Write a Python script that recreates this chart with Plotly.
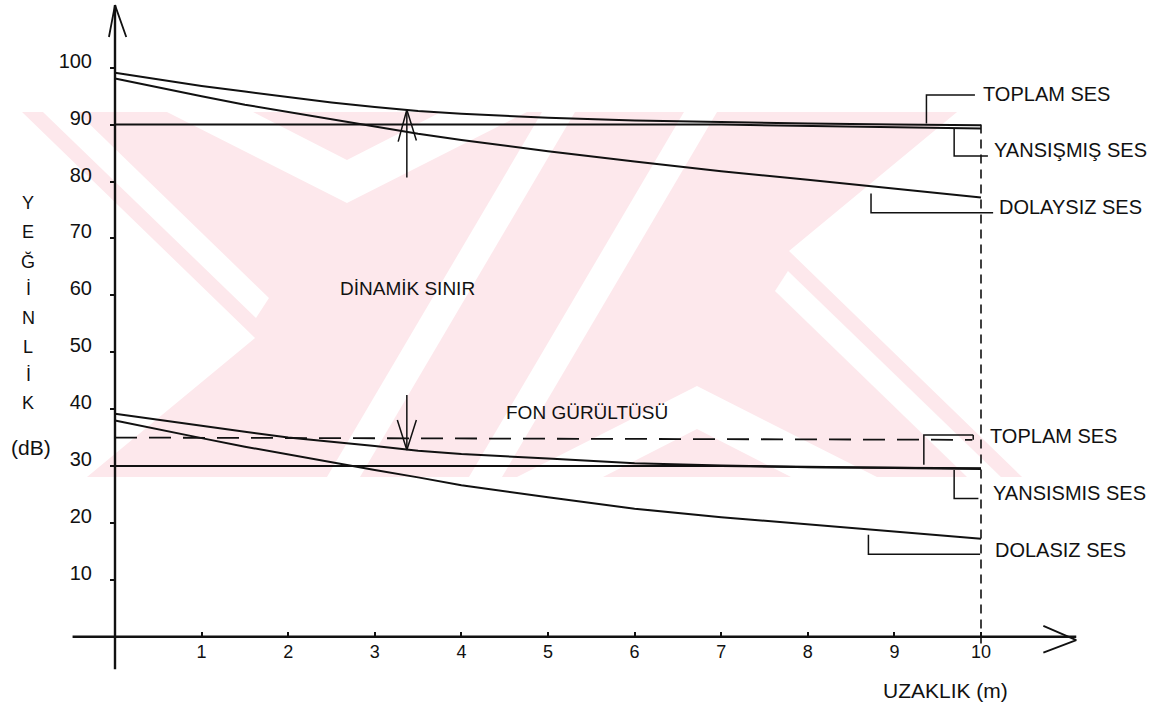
import plotly.graph_objects as go

# ---------------- data ----------------
distance_m = [0, 0.5, 1, 1.5, 2, 2.5, 3, 3.5, 4, 5, 6, 7, 8, 9, 10]

# upper group (source level)
upper_total_db = [99.1, 97.9, 96.8, 95.8, 94.8, 93.9, 93.1, 92.4, 91.9, 91.2, 90.7, 90.4, 90.2, 90.0, 89.9]
upper_direct_db = [98.1, 96.5, 95.0, 93.5, 92.2, 91.0, 89.7, 88.4, 87.3, 85.3, 83.5, 81.8, 80.3, 78.7, 77.2]
upper_reflected_x = [0, 7, 10]
upper_reflected_db = [90.0, 90.0, 89.3]

# lower group
lower_total_db = [39.2, 38.1, 37.1, 36.0, 35.0, 34.3, 33.5, 32.7, 32.1, 31.3, 30.5, 30.1, 29.8, 29.7, 29.6]
lower_direct_db = [38.0, 36.4, 34.9, 33.4, 32.0, 30.7, 29.3, 28.0, 26.6, 24.5, 22.5, 21.0, 19.7, 18.4, 17.2]
lower_reflected_x = [0, 7, 10]
lower_reflected_db = [30.0, 30.0, 29.5]

# background noise (dashed)
noise_x = [0, 9.9]
noise_db = [35.0, 34.6]

# dynamic range arrows
arrow_x = 3.37
arrow_up_from_db, arrow_up_to_db = 80.7, 92.6
arrow_down_from_db, arrow_down_to_db = 42.5, 32.8

x_tick_vals = [1, 2, 3, 4, 5, 6, 7, 8, 9, 10]
y_tick_vals = [10, 20, 30, 40, 50, 60, 70, 80, 90, 100]

label_texts = ["TOPLAM SES", "YANSIŞMIŞ SES", "DOLAYSIZ SES",
               "TOPLAM SES", "YANSISMIS SES", "DOLASIZ SES"]
# leader brackets: (x where it touches the curve, db at curve, db at elbow, x end)
label_leaders = [
    (9.37, 90.2, 95.2, 9.93),
    (9.69, 89.35, 84.5, 10.08),
    (8.73, 77.9, 74.5, 10.14),
    (9.34, 30.2, 35.45, 9.91),
    (9.69, 29.3, 24.3, 9.97),
    (8.70, 17.9, 14.5, 9.99),
]
label_text_pos = [(10.0, 95.4), (10.13, 85.6), (10.19, 75.6),
                  (10.08, 35.3), (10.12, 25.2), (10.14, 15.2)]

y_title_letters = ["Y", "E", "Ğ", "İ", "N", "L", "İ", "K"]
y_title_db = [76.2, 71.1, 66.0, 61.1, 56.0, 50.9, 46.0, 41.1]

# ---------------- layout geometry ----------------
W, H = 1171, 707
X0_PX, PX_PER_M = 115.0, 86.6
Y0_PX, PX_PER_DB = 636.7, 5.69
xr = [(0 - X0_PX) / PX_PER_M, (W - X0_PX) / PX_PER_M]
yr = [(Y0_PX - H) / PX_PER_DB, (Y0_PX - 0) / PX_PER_DB]

FONT = "Liberation Sans"
INK = "#111111"
PINK = "#fde8ec"

fig = go.Figure()


def line(xs, ys, width=2.0, dash="solid", color=INK):
    fig.add_trace(go.Scatter(x=xs, y=ys, mode="lines", hoverinfo="skip",
                             line=dict(color=color, width=width, dash=dash),
                             showlegend=False))


# axes drawn as lines with open arrowheads
line([0, 0], [-5.7, 111.0], width=2.4)
line([-0.07, 0.0, 0.13], [105.4, 111.0, 105.4], width=1.8)
line([-0.49, 11.1], [0, 0], width=2.4)
line([10.72, 11.1, 10.72], [1.9, -0.6, -2.8], width=1.8)

# vertical dashed at 10 m
line([10, 10], [90.0, -1.9], width=1.6, dash="9px,6px")

# curves
line(upper_reflected_x, upper_reflected_db)
line(distance_m, upper_total_db)
line(distance_m, upper_direct_db)
line(lower_reflected_x, lower_reflected_db, width=2.2)
line(distance_m, lower_total_db)
line(distance_m, lower_direct_db)
line(noise_x, noise_db, width=1.8, dash="22px,12px")

# dynamic range arrows
line([arrow_x, arrow_x], [arrow_up_from_db, arrow_up_to_db], width=1.5)
line([arrow_x - 0.10, arrow_x, arrow_x + 0.11], [87.0, arrow_up_to_db, 87.2], width=1.5)
line([arrow_x, arrow_x], [arrow_down_from_db, arrow_down_to_db], width=1.5)
line([arrow_x - 0.11, arrow_x, arrow_x + 0.11], [38.1, arrow_down_to_db, 38.1], width=1.5)

# leader brackets
for xc, dbc, dbe, xe in label_leaders:
    line([xc, xc, xe], [dbc, dbe, dbe], width=1.5)
line([9.91, 9.91], [35.45, 34.6], width=1.5)

annotations = []
for txt, (xt, yt) in zip(label_texts, label_text_pos):
    annotations.append(dict(x=xt, y=yt, text=txt, showarrow=False, xanchor="left",
                            yanchor="middle", font=dict(family=FONT, size=20, color=INK)))
annotations.append(dict(x=(407 - X0_PX) / PX_PER_M, y=(Y0_PX - 288) / PX_PER_DB,
                        text="DİNAMİK SINIR", showarrow=False,
                        font=dict(family=FONT, size=19, color=INK)))
annotations.append(dict(x=(587 - X0_PX) / PX_PER_M, y=(Y0_PX - 412) / PX_PER_DB,
                        text="FON GÜRÜLTÜSÜ", showarrow=False,
                        font=dict(family=FONT, size=19, color=INK)))
for ch, yd in zip(y_title_letters, y_title_db):
    annotations.append(dict(x=(28 - X0_PX) / PX_PER_M, y=yd, text=ch, showarrow=False,
                            font=dict(family=FONT, size=18, color=INK)))
annotations.append(dict(x=(31 - X0_PX) / PX_PER_M, y=(Y0_PX - 447) / PX_PER_DB,
                        text="(dB)", showarrow=False,
                        font=dict(family=FONT, size=21, color=INK)))
annotations.append(dict(x=(945 - X0_PX) / PX_PER_M, y=(Y0_PX - 690) / PX_PER_DB,
                        text="UZAKLIK (m)", showarrow=False,
                        font=dict(family=FONT, size=21, color=INK)))


# watermark (pale pink striped emblem) in pixel -> paper coords
def path(pts):
    return "M " + " L ".join(f"{x / W:.4f},{1 - y / H:.4f}" for x, y in pts) + " Z"


shapes = [dict(type="path", xref="paper", yref="paper", layer="below",
               path=path([(22, 112), (957, 112), (789, 251), (1022, 477),
                          (87, 477), (255, 338)]),
               fillcolor=PINK, line=dict(width=0))]
white_polys = [
    [(167, 112), (347, 203), (527, 112), (441, 112), (347, 160), (253, 112)],
    [(877, 477), (697, 386), (517, 477), (603, 477), (697, 429), (791, 477)],
    [(327, 477), (360, 477), (575, 112), (542, 112)],
    [(717, 112), (684, 112), (469, 477), (502, 477)],
    [(43, 112), (77, 112), (269, 298), (256, 318)],
    [(1001, 477), (967, 477), (775, 291), (788, 271)],
]
for poly in white_polys:
    shapes.append(dict(type="path", xref="paper", yref="paper", layer="below",
                       path=path(poly), fillcolor="white", line=dict(width=0)))

fig.update_layout(
    width=W, height=H, margin=dict(l=0, r=0, t=0, b=0, pad=0),
    paper_bgcolor="white", plot_bgcolor="rgba(0,0,0,0)",
    showlegend=False, shapes=shapes, annotations=annotations,
    xaxis=dict(range=xr, showgrid=False, zeroline=False, showline=False,
               anchor="free", position=(0 - yr[0]) / (yr[1] - yr[0]),
               tickvals=x_tick_vals, ticks="inside", ticklen=5, tickwidth=1.5,
               tickcolor=INK, ticklabelstandoff=2,
               tickfont=dict(family=FONT, size=18, color=INK)),
    yaxis=dict(range=yr, showgrid=False, zeroline=False, showline=False,
               anchor="free", position=(0 - xr[0]) / (xr[1] - xr[0]),
               tickvals=y_tick_vals, ticks="outside", ticklen=5, tickwidth=1.5,
               tickcolor=INK, ticklabelstandoff=14, ticklabelshift=-7,
               tickfont=dict(family=FONT, size=20, color=INK)),
)

fig.write_html("out.html", config={"displayModeBar": False},
               post_script="document.body.style.margin='0';")
